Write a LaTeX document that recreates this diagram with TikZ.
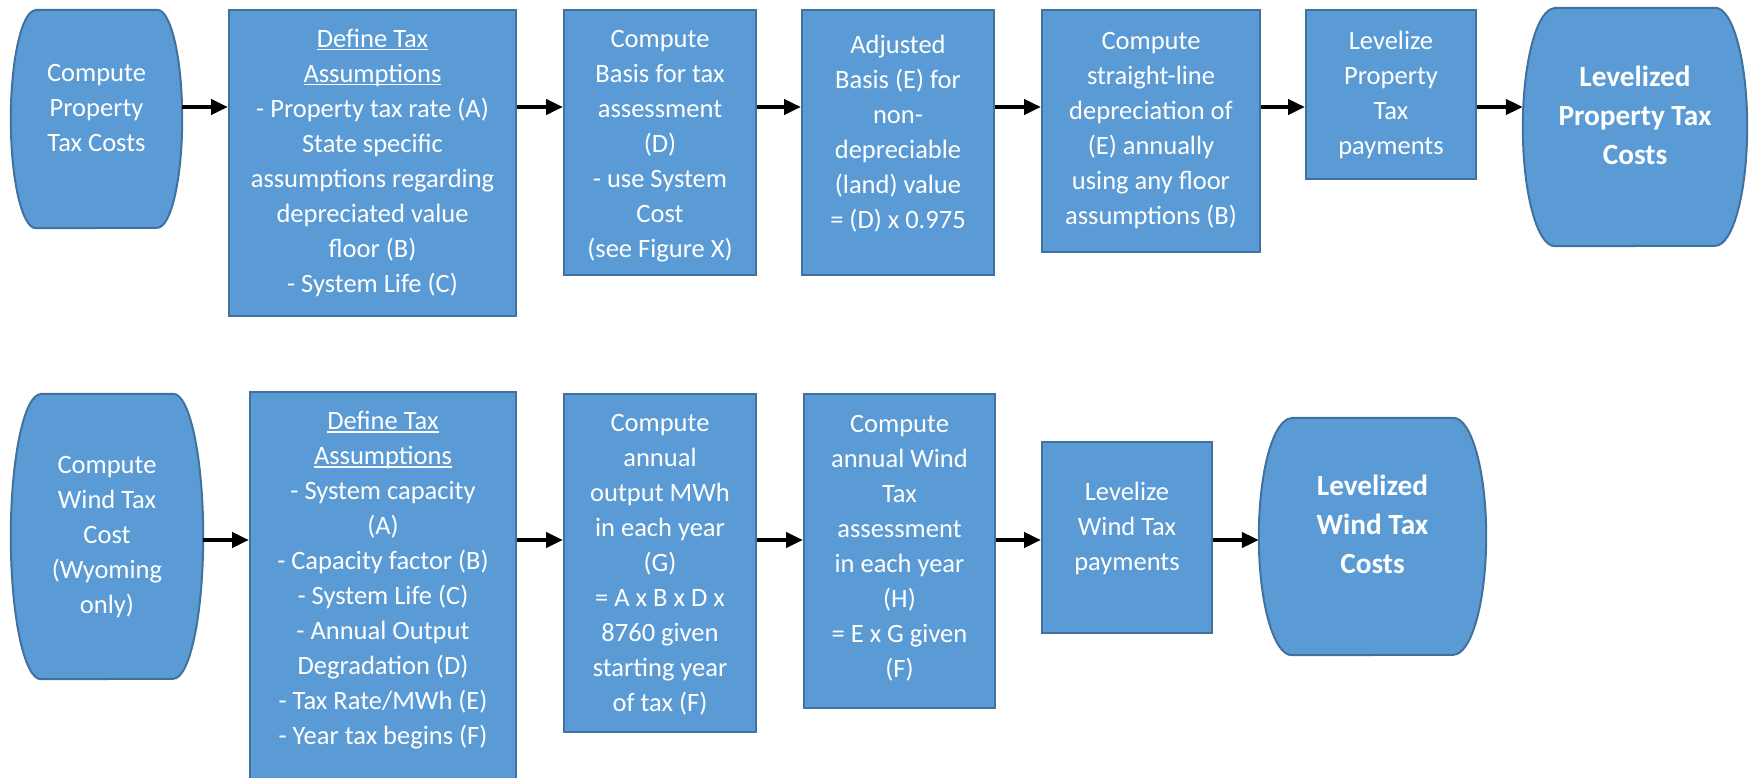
\documentclass[tikz,border=0pt]{standalone}
\usepackage{fontspec}
\setmainfont{Carlito}
\usetikzlibrary{arrows.meta,backgrounds}
\definecolor{blu}{RGB}{91,155,213}
\definecolor{bord}{RGB}{65,113,156}
\newcommand\ulin[1]{\setbox0\hbox{#1}\rlap{\rule[-3pt]{\wd0}{1.5pt}}\box0}
\newcommand\tb[2]{\begin{tabular}{@{}c@{}}#1\\[#2]\end{tabular}}
\newcommand\barrel[3]{\filldraw[barrelfill] ([xshift=#2]#1.north west) -- ([xshift=-#2]#1.north east) arc[start angle=90,end angle=-90,x radius=#2,y radius=#3] -- ([xshift=#2]#1.south west) arc[start angle=270,end angle=90,x radius=#2,y radius=#3] -- cycle;}
\tikzset{
 box/.style={draw=bord, fill=blu, line width=2pt, inner sep=0pt, text=white, font=\fontsize{26.5}{35}\selectfont},
 barrelnode/.style={inner sep=0pt, text=white, font=\fontsize{26.5}{35}\selectfont},
 boldtxt/.style={font=\fontsize{29.3}{39}\selectfont\bfseries},
 barrelfill/.style={draw=bord, fill=blu, line width=2pt},
 arr/.style={line width=4.5pt, -{Triangle[length=17pt,width=15pt]}},
}
\begin{document}
\begin{tikzpicture}[x=1pt,y=-1pt]
\useasboundingbox (0,0) rectangle (1749,778);
% row 1
\node[barrelnode, minimum width=171pt, minimum height=218pt] (a1) at (96.5,119) {\tb{Compute\\Property\\Tax Costs}{18pt}};
\node[box, minimum width=287pt, minimum height=306pt] (a2) at (372.5,163) {\tb{\ulin{Define Tax}\\\ulin{Assumptions}\\- Property tax rate (A)\\State specific\\assumptions regarding\\depreciated value\\floor (B)\\- System Life (C)}{0pt}};
\node[box, minimum width=192pt, minimum height=265pt] (a3) at (660,142.5) {\tb{Compute\\Basis for tax\\assessment\\(D)\\- use System\\Cost\\(see Figure X)}{-7pt}};
\node[box, minimum width=192pt, minimum height=265pt] (a4) at (898,142.5) {\tb{Adjusted\\Basis (E) for\\non-\\depreciable\\(land) value\\= (D) x 0.975}{16pt}};
\node[box, minimum width=218pt, minimum height=242pt] (a5) at (1151,131) {\tb{Compute\\straight-line\\depreciation of\\(E) annually\\using any floor\\assumptions (B)}{1pt}};
\node[box, minimum width=170pt, minimum height=169pt] (a6) at (1391,94.5) {\tb{Levelize\\Property\\Tax\\payments}{-2pt}};
\node[barrelnode, boldtxt, minimum width=224pt, minimum height=238pt] (a7) at (1635,127) {\tb{Levelized\\Property Tax\\Costs}{18pt}};
% row 2
\node[barrelnode, minimum width=192pt, minimum height=285pt] (b1) at (107,536.5) {\tb{Compute\\Wind Tax\\Cost\\(Wyoming\\only)}{0pt}};
\node[box, minimum width=266pt, minimum height=398pt] (b2) at (383,591) {\tb{\ulin{Define Tax}\\\ulin{Assumptions}\\- System capacity\\(A)\\- Capacity factor (B)\\- System Life (C)\\- Annual Output\\Degradation (D)\\- Tax Rate/MWh (E)\\- Year tax begins (F)}{22pt}};
\node[box, minimum width=192pt, minimum height=338pt] (b3) at (660,563) {\tb{Compute\\annual\\output MWh\\in each year\\(G)\\= A x B x D x\\8760 given\\starting year\\of tax (F)}{-2pt}};
\node[box, minimum width=191pt, minimum height=314pt] (b4) at (899.5,551) {\tb{Compute\\annual Wind\\Tax\\assessment\\in each year\\(H)\\= E x G given\\(F)}{6pt}};
\node[box, minimum width=170pt, minimum height=191pt] (b5) at (1127,537.5) {\tb{Levelize\\Wind Tax\\payments}{19pt}};
\node[barrelnode, boldtxt, minimum width=227pt, minimum height=237pt] (b6) at (1372.5,536.5) {\tb{Levelized\\Wind Tax\\Costs}{19pt}};
\begin{scope}[on background layer]
\barrel{a1}{25pt}{109pt}
\barrel{a7}{32pt}{119pt}
\barrel{b1}{30pt}{142.5pt}
\barrel{b6}{33pt}{118.5pt}
\end{scope}
% connectors
\coordinate (r1) at (0,107);
\coordinate (r2) at (0,540);
\draw[arr] (a1.east |- r1) -- (a2.west |- r1);
\draw[arr] (a2.east |- r1) -- (a3.west |- r1);
\draw[arr] (a3.east |- r1) -- (a4.west |- r1);
\draw[arr] (a4.east |- r1) -- (a5.west |- r1);
\draw[arr] (a5.east |- r1) -- (a6.west |- r1);
\draw[arr] (a6.east |- r1) -- (a7.west |- r1);
\draw[arr] (b1.east |- r2) -- (b2.west |- r2);
\draw[arr] (b2.east |- r2) -- (b3.west |- r2);
\draw[arr] (b3.east |- r2) -- (b4.west |- r2);
\draw[arr] (b4.east |- r2) -- (b5.west |- r2);
\draw[arr] (b5.east |- r2) -- (b6.west |- r2);
\end{tikzpicture}
\end{document}
